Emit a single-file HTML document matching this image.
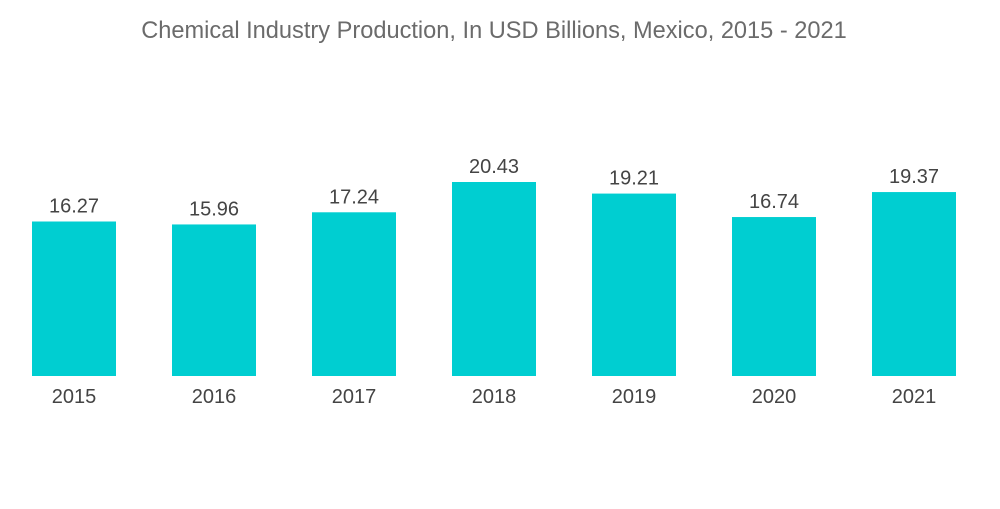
<!DOCTYPE html>
<html>
<head>
<meta charset="utf-8">
<style>
  html, body { margin: 0; padding: 0; background: #fff; }
  body { width: 1000px; height: 504px; overflow: hidden; font-family: "Liberation Sans", sans-serif; }
  svg text { font-family: "Liberation Sans", sans-serif; }
</style>
</head>
<body>
<svg id="chart" width="1000" height="504" viewBox="0 0 1000 504" xmlns="http://www.w3.org/2000/svg">
  <text x="494" y="38" text-anchor="middle" font-size="23.6" fill="#6b6b6b">Chemical Industry Production, In USD Billions, Mexico, 2015 - 2021</text>
  <g id="bars"></g>
  <g id="labels"></g>
  <g id="xaxis"></g>
</svg>
<script>
const categories = ["2015", "2016", "2017", "2018", "2019", "2020", "2021"];
const values = [16.27, 15.96, 17.24, 20.43, 19.21, 16.74, 19.37];
const valueLabels = ["16.27", "15.96", "17.24", "20.43", "19.21", "16.74", "19.37"];

const NS = "http://www.w3.org/2000/svg";
const baseY = 376, pxPerUnit = 194 / 20.43;
const firstX = 32, step = 140, barW = 84;
function xPos(i) { return firstX + i * step; }
function yPos(v) { return baseY - v * pxPerUnit; }

const gb = document.getElementById("bars");
const gl = document.getElementById("labels");
const gx = document.getElementById("xaxis");
categories.forEach((c, i) => {
  const r = document.createElementNS(NS, "rect");
  r.setAttribute("x", xPos(i));
  r.setAttribute("y", yPos(values[i]));
  r.setAttribute("width", barW);
  r.setAttribute("height", baseY - yPos(values[i]));
  r.setAttribute("fill", "#00ced1");
  
  
  gb.appendChild(r);

  const t = document.createElementNS(NS, "text");
  t.setAttribute("x", xPos(i) + barW / 2);
  t.setAttribute("y", yPos(values[i]) - 9);
  t.setAttribute("text-anchor", "middle");
  t.setAttribute("font-size", "20");
  t.setAttribute("fill", "#444");
  t.textContent = valueLabels[i];
  
  
  gl.appendChild(t);

  const xt = document.createElementNS(NS, "text");
  xt.setAttribute("x", xPos(i) + barW / 2);
  xt.setAttribute("y", 403);
  xt.setAttribute("text-anchor", "middle");
  xt.setAttribute("font-size", "20");
  xt.setAttribute("fill", "#444");
  xt.textContent = c;
  
  
  gx.appendChild(xt);
});
</script>
</body>
</html>
